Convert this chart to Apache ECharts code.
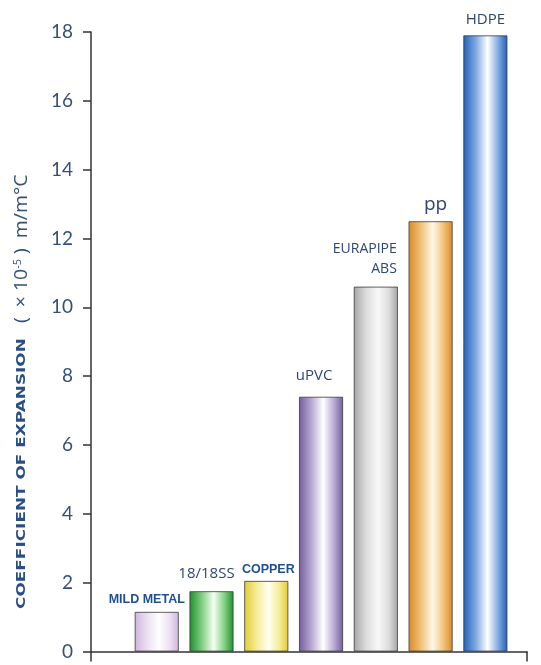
<!DOCTYPE html>
<html>
<head>
<meta charset="utf-8">
<script src="https://cdn.jsdelivr.net/npm/echarts@6/dist/echarts.min.js"></script>
<style>
  html, body { margin: 0; padding: 0; background: #ffffff; }
  #chart { width: 541px; height: 665px; }
</style>
</head>
<body>
<div id="chart"></div>
<script>
// Linear expansion coefficients (x10^-5 m/m°C) of pipe materials
const materials = ['MILD METAL', '18/18SS', 'COPPER', 'uPVC', 'EURAPIPE\nABS', 'pp', 'HDPE'];
const expansion = [1.15, 1.75, 2.05, 7.4, 10.6, 12.5, 17.9];
const yTickValues = [0, 2, 4, 6, 8, 10, 12, 14, 16, 18];
const axisTitle = 'COEFFICIENT OF EXPANSION';
const axisUnit = ['(  × 10', '-5', ' )  m/m°C'];

// Cylinder-like shading for each bar: [edge, mid, highlight]
const barShades = [
  ['#cdb5db', '#ecdff2', '#ffffff'],
  ['#1e8e31', '#80cf7f', '#f4fff2'],
  ['#e3cb33', '#f5ec96', '#fffff2'],
  ['#735e9c', '#b7a8d2', '#ffffff'],
  ['#a6a6a6', '#dcdcdc', '#f8f8f8'],
  ['#d98a25', '#f1c179', '#fff8e8'],
  ['#2160b9', '#7ea8e0', '#ffffff']
];

// Label placement per bar
const labelLayout = [
  { offset: [-10, 0], distance: 3, font: 'narrowBold', size: 12.5, color: '#1f4f92' },
  { offset: [-5, 0], distance: 7, font: 'regular', size: 15, color: '#2e4670' },
  { offset: [2, 0], distance: 2, font: 'narrowBold', size: 12.5, color: '#1f4f92' },
  { offset: [-7, 0], distance: 11, font: 'regular', size: 15, color: '#2e4670' },
  { offset: [21, 0], distance: 8, font: 'regular', size: 14, color: '#2e4670', align: 'right' },
  { offset: [5, 0], distance: 4, font: 'regular', size: 19, color: '#2e4670' },
  { offset: [0, 0], distance: 5, font: 'regular', size: 15, color: '#2e4670' }
];

const fonts = {
  narrowBold: { fontFamily: '"Liberation Sans", Arial, sans-serif', fontWeight: 'bold' },
  regular: { fontFamily: '"Open Sans", "Noto Sans", sans-serif', fontWeight: 'normal' }
};

function shade(s) {
  return {
    type: 'linear', x: 0, y: 0, x2: 1, y2: 0,
    colorStops: [
      { offset: 0, color: s[0] },
      { offset: 0.28, color: s[1] },
      { offset: 0.55, color: s[2] },
      { offset: 0.8, color: s[1] },
      { offset: 1, color: s[0] }
    ]
  };
}

const barData = expansion.map((v, i) => {
  const l = labelLayout[i];
  return {
    value: [i, v],
    itemStyle: { color: shade(barShades[i]) },
    label: {
      show: true,
      position: 'top',
      distance: l.distance,
      offset: l.offset,
      align: l.align || 'center',
      fontSize: l.size,
      lineHeight: l.size + 6,
      color: l.color,
      fontFamily: fonts[l.font].fontFamily,
      fontWeight: fonts[l.font].fontWeight,
      formatter: () => materials[i]
    }
  };
});

const X_MIN = -1.2, X_MAX = 6.76;

const chart = echarts.init(document.getElementById('chart'), null, { renderer: 'canvas' });
chart.setOption({
  animation: false,
  backgroundColor: '#ffffff',
  grid: { left: 91, right: 14, top: 32, bottom: 13.5 },
  xAxis: {
    type: 'value',
    min: X_MIN,
    max: X_MAX,
    axisLine: { show: true, onZero: true, lineStyle: { color: '#333333', width: 1.5 } },
    axisTick: { show: true, customValues: [X_MIN, X_MAX], length: 10, inside: false, lineStyle: { color: '#333333', width: 1.5 } },
    axisLabel: { show: false },
    splitLine: { show: false }
  },
  yAxis: {
    type: 'value',
    min: 0,
    max: 18,
    interval: 2,
    axisLine: { show: true, onZero: false, lineStyle: { color: '#333333', width: 1.5 } },
    axisTick: { show: true, length: 8, inside: false, lineStyle: { color: '#333333', width: 1.5 } },
    axisLabel: {
      margin: 18,
      fontSize: 19,
      color: '#34507a',
      fontFamily: 'Lato, "Noto Sans", sans-serif',
      formatter: v => (yTickValues.indexOf(v) >= 0 ? String(v) : '')
    },
    splitLine: { show: false }
  },
  graphic: [{
    // bold title part, read bottom to top
    type: 'text',
    x: 22,
    y: 609,
    rotation: Math.PI / 2,
    scaleX: 1.3,
    style: {
      text: axisTitle,
      textAlign: 'left',
      textVerticalAlign: 'middle',
      fontSize: 13,
      fontWeight: 'bold',
      fontFamily: '"DejaVu Sans", sans-serif',
      fill: '#2a4f86'
    }
  }, {
    // unit part
    type: 'text',
    x: 22,
    y: 323,
    rotation: Math.PI / 2,
    scaleX: 1.08,
    style: {
      text: '{b|' + axisUnit[0] + '}{s|' + axisUnit[1] + '}{b|' + axisUnit[2] + '}',
      textAlign: 'left',
      textVerticalAlign: 'middle',
      rich: {
        b: { fontSize: 18, fontFamily: '"Open Sans", "Noto Sans", sans-serif', fill: '#34507a' },
        s: { fontSize: 10, fontFamily: '"Open Sans", "Noto Sans", sans-serif', fill: '#34507a', verticalAlign: 'top' }
      }
    }
  }],
  series: [{
    type: 'bar',
    barWidth: 44,
    itemStyle: { borderColor: '#3a3a3a', borderWidth: 0.8 },
    data: barData
  }]
});
</script>
</body>
</html>
